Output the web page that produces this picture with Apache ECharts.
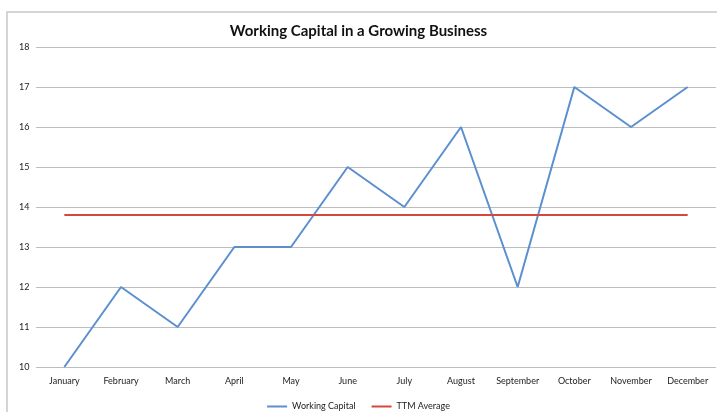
<!DOCTYPE html>
<html><head><meta charset="utf-8">
<script src="https://cdn.jsdelivr.net/npm/echarts@6/dist/echarts.min.js"></script>
<style>html,body{margin:0;padding:0;background:#fff}#c{width:717px;height:412px}</style>
</head><body><div id="c"></div>
<script>
const categories = ['January','February','March','April','May','June','July','August','September','October','November','December'];
const workingCapital = [10,12,11,13,13,15,14,16,12,17,16,17];
const ttmAverage = [13.8,13.8,13.8,13.8,13.8,13.8,13.8,13.8,13.8,13.8,13.8,13.8];
const yTicks = {min:10, max:18, interval:1};

const chart = echarts.init(document.getElementById('c'));
const font = 'Lato, "Open Sans", sans-serif';
chart.setOption({
  animation:false,
  graphic:[{type:'rect', shape:{x:7,y:12,width:720,height:410}, style:{fill:'none', stroke:'#c8c8c8', lineWidth:1.5}, silent:true}],
  title:{text:'Working Capital in a Growing Business', left:'center', top:19,
    textStyle:{fontFamily:font, fontSize:15, fontWeight:'bold', color:'#111'}},
  legend:{top:397, left:'center', itemWidth:20, itemHeight:2, itemGap:16, icon:'rect',
    textStyle:{fontFamily:font, fontSize:9, color:'#222'},
    data:['Working Capital','TTM Average']},
  grid:{left:36, right:1, top:47, bottom:45},
  xAxis:{type:'category', data:categories, boundaryGap:true,
    axisLine:{show:false}, axisTick:{show:false},
    axisLabel:{fontFamily:font, fontSize:9, color:'#222', margin:10, interval:0}},
  yAxis:{type:'value', min:yTicks.min, max:yTicks.max, interval:yTicks.interval,
    axisLine:{show:false}, axisTick:{show:false},
    axisLabel:{fontFamily:font, fontSize:9, color:'#222', margin:17, align:'left'},
    splitLine:{lineStyle:{color:'#bdbdbd', width:1.2}}},
  series:[
    {name:'Working Capital', type:'line', data:workingCapital, symbol:'none',
      lineStyle:{color:'#5b8fd0', width:2}, itemStyle:{color:'#5b8fd0'}},
    {name:'TTM Average', type:'line', data:ttmAverage, symbol:'none',
      lineStyle:{color:'#d5473a', width:2}, itemStyle:{color:'#d5473a'}}
  ]
});
</script></body></html>
